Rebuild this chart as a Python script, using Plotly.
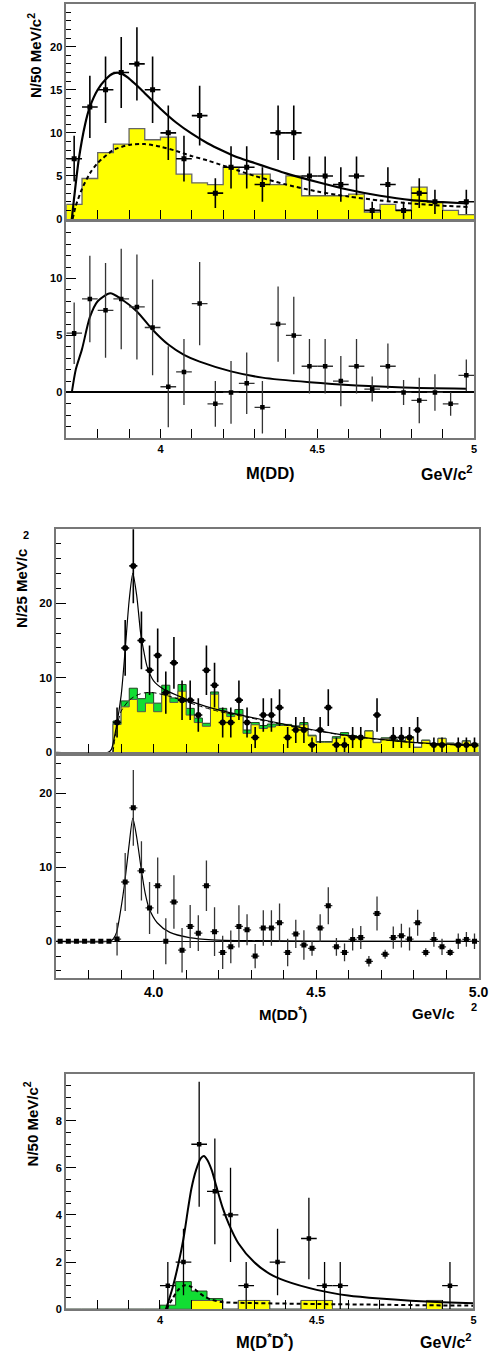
import plotly.graph_objects as go

W, H = 492, 1359
FONT = "Liberation Sans, Arial, Helvetica, sans-serif"

# ---------------- Panel 1 : M(DD) data ----------------
p1_x = [3.725, 3.775, 3.825, 3.875, 3.925, 3.975, 4.025, 4.075, 4.125, 4.175, 4.225, 4.275, 4.325,
        4.375, 4.425, 4.475, 4.525, 4.575, 4.625, 4.675, 4.725, 4.775, 4.825, 4.875, 4.975]
p1_y = [7, 13, 15, 17, 18, 15, 10, 7, 12, 3, 6, 6, 4, 10, 10, 5, 5, 4, 5, 1, 4, 1, 3, 2, 2]
p1_err = [2.65, 3.61, 3.87, 4.12, 4.24, 3.87, 3.16, 2.65, 3.46, 1.73, 2.45, 2.45, 2.0, 3.16, 3.16,
          2.24, 2.24, 2.0, 2.24, 1.0, 2.0, 1.0, 1.73, 1.41, 1.41]
p1_edges = [3.70, 3.75, 3.80, 3.85, 3.90, 3.95, 4.00, 4.05, 4.10, 4.15, 4.20, 4.25, 4.30, 4.35,
            4.40, 4.45, 4.50, 4.55, 4.60, 4.65, 4.70, 4.75, 4.80, 4.85, 4.90, 4.95, 5.00]
p1_hist = [1.7, 4.7, 7.7, 8.7, 10.5, 9.2, 9.5, 5.2, 4.2, 4.0, 6.0, 5.2, 5.2, 4.0, 5.0, 2.7, 2.7,
           2.7, 2.9, 0.8, 1.7, 1.0, 3.7, 2.0, 1.0, 0.5]
p1_fit_x = [3.7175, 3.725, 3.74, 3.76, 3.775, 3.80, 3.825, 3.85, 3.875, 3.90, 3.925, 3.95, 3.975,
            4.00, 4.05, 4.10, 4.15, 4.20, 4.25, 4.30, 4.35, 4.40, 4.50, 4.60, 4.70, 4.80, 4.90, 4.98]
p1_fit_y = [0.0, 2.5, 7.0, 11.0, 13.0, 15.0, 16.2, 16.9, 16.9, 16.3, 15.5, 14.6, 13.7,
            12.8, 11.2, 9.9, 8.8, 7.9, 7.1, 6.5, 5.9, 5.3, 4.3, 3.4, 2.7, 2.2, 1.95, 1.8]
p1_bg_x = [3.72, 3.73, 3.75, 3.775, 3.80, 3.85, 3.90, 3.95, 4.00, 4.05, 4.10, 4.15, 4.20, 4.25,
           4.30, 4.35, 4.40, 4.50, 4.60, 4.70, 4.80, 4.90, 4.98]
p1_bg_y = [0.0, 1.5, 3.5, 5.3, 6.5, 8.0, 8.6, 8.7, 8.4, 7.9, 7.3, 6.8, 6.2, 5.6,
           5.0, 4.5, 4.0, 3.2, 2.6, 2.15, 1.8, 1.55, 1.4]

# ---------------- Panel 2 : M(DD) background subtracted ----------------
p2_x = [3.725, 3.775, 3.825, 3.875, 3.925, 3.975, 4.025, 4.075, 4.125, 4.175, 4.225, 4.275, 4.325,
        4.375, 4.425, 4.475, 4.525, 4.575, 4.625, 4.675, 4.725, 4.775, 4.825, 4.875, 4.925, 4.975]
p2_y = [5.2, 8.2, 7.2, 8.2, 7.5, 5.7, 0.5, 1.8, 7.8, -1.0, 0.0, 0.8, -1.3, 6.0, 5.0, 2.3, 2.3,
        1.0, 2.3, 0.3, 2.3, 0.0, -0.7, 0.0, -1.0, 1.5]
p2_err = [2.7, 3.8, 4.15, 4.4, 4.6, 4.2, 3.55, 2.9, 3.65, 2.0, 2.75, 2.7, 2.3, 3.3, 3.4, 2.4, 2.4,
          2.2, 2.4, 1.1, 2.0, 1.1, 2.0, 1.6, 1.05, 1.4]
p2_fit_x = [3.7175, 3.73, 3.75, 3.775, 3.80, 3.84, 3.875, 3.925, 3.975, 4.025, 4.075, 4.125,
            4.225, 4.325, 4.475, 4.625, 4.775, 4.975]
p2_fit_y = [0.0, 2.0, 3.8, 6.6, 8.0, 8.7, 8.2, 7.1, 5.5, 4.2, 3.3, 2.7,
            1.85, 1.3, 0.9, 0.62, 0.44, 0.33]

# ---------------- Panel 3 : M(DD*) data ----------------
p3_x = [3.8875, 3.9125, 3.9375, 3.9625, 3.9875, 4.0125, 4.0375, 4.0625, 4.0875, 4.1125, 4.1375,
        4.1625, 4.1875, 4.2125, 4.2375, 4.2625, 4.2875, 4.3125, 4.3375, 4.3625, 4.3875, 4.4125,
        4.4375, 4.4625, 4.4875, 4.5125, 4.5375, 4.5625, 4.5875, 4.6125, 4.6375, 4.6875, 4.7375,
        4.7625, 4.7875, 4.8125, 4.8625, 4.8875, 4.9375, 4.9625, 4.9875]
p3_y = [4, 14, 25, 15, 11, 13, 8, 12, 7, 7, 5, 11, 9, 4, 4, 7, 4, 2, 5, 5, 6, 2, 3, 3, 1, 3, 6,
        1, 1, 2, 2, 5, 2, 2, 2, 3, 1, 1, 1, 1, 1]
p3_err = [2.0, 3.74, 5.0, 3.87, 3.32, 3.61, 2.83, 3.46, 2.65, 2.65, 2.24, 3.32, 3.0, 2.0, 2.0,
          2.65, 2.0, 1.41, 2.24, 2.24, 2.45, 1.41, 1.73, 1.73, 1.0, 1.73, 2.45, 1.0, 1.0, 1.41,
          1.41, 2.24, 1.41, 1.41, 1.41, 1.73, 1.0, 1.0, 1.0, 1.0, 1.0]
p3_edges = [3.875, 3.900, 3.925, 3.950, 3.975, 4.000, 4.025, 4.050, 4.075, 4.100, 4.125, 4.150,
            4.175, 4.200, 4.225, 4.250, 4.275, 4.300, 4.325, 4.350, 4.375, 4.400, 4.425, 4.450,
            4.475, 4.500, 4.525, 4.550, 4.575, 4.600, 4.625, 4.650, 4.675, 4.700, 4.725, 4.750,
            4.775, 4.800, 4.825, 4.850, 4.875, 4.900, 4.925, 4.950, 4.975, 5.000]
p3_yellow = [3.75, 6.1, 7.1, 5.45, 6.6, 5.45, 7.9, 6.7, 8.2, 5.0, 4.0, 3.5, 7.8, 5.6, 4.8, 5.1,
             2.55, 3.7, 3.2, 3.4, 3.6, 3.6, 3.4, 3.7, 2.2, 1.35, 1.35, 1.9, 2.35, 2.05, 1.9, 2.85,
             1.3, 1.85, 1.7, 1.5, 2.0, 0.65, 1.6, 1.1, 1.85, 1.2, 1.15, 1.5, 1.15]
p3_green = [4.2, 6.9, 8.6, 7.2, 8.0, 6.6, 9.0, 7.3, 9.1, 5.9, 4.6, 3.9, 8.1, 5.9, 5.2, 5.75,
            3.0, 4.0, 3.6, 3.8, 3.8, 3.75, 3.55, 4.0, 2.3, 1.45, 1.45, 2.1, 2.65, 2.25, 2.0, 2.9,
            1.35, 1.95, 1.8, 1.6, 2.1, 0.7, 1.65, 1.15, 1.9, 1.25, 1.2, 1.55, 1.2]
p3_fit_x = [3.70, 3.86, 3.87, 3.885, 3.90, 3.912, 3.925, 3.936, 3.948, 3.96, 3.97, 3.98, 4.00,
            4.03, 4.08, 4.13, 4.20, 4.30, 4.40, 4.50, 4.60, 4.70, 4.80, 4.90, 5.00]
p3_fit_y = [0.0, 0.0, 0.4, 3.4, 7.6, 13.5, 20.5, 24.0, 21.0, 16.0, 13.5, 11.5, 9.6,
            8.5, 7.5, 6.6, 5.7, 4.7, 3.8, 2.95, 2.25, 1.75, 1.35, 1.1, 0.9]
p3_bg_x = [3.875, 3.885, 3.90, 3.925, 3.95, 3.975, 4.00, 4.05, 4.10, 4.15, 4.20, 4.30, 4.40,
           4.50, 4.60, 4.70, 4.80, 4.90, 5.00]
p3_bg_y = [0.0, 3.0, 5.5, 7.0, 7.7, 8.0, 8.0, 7.5, 6.8, 6.1, 5.5, 4.6, 3.7,
           2.9, 2.2, 1.7, 1.3, 1.05, 0.85]

# ---------------- Panel 4 : M(DD*) background subtracted ----------------
p4_x = [3.7125, 3.7375, 3.7625, 3.7875, 3.8125, 3.8375, 3.8625, 3.8875, 3.9125, 3.9375, 3.9625,
        3.9875, 4.0125, 4.0375, 4.0625, 4.0875, 4.1125, 4.1375, 4.1625, 4.1875, 4.2125, 4.2375,
        4.2625, 4.2875, 4.3125, 4.3375, 4.3625, 4.3875, 4.4125, 4.4375, 4.4625, 4.4875, 4.5125,
        4.5375, 4.5625, 4.5875, 4.6125, 4.6375, 4.6625, 4.6875, 4.7125, 4.7375, 4.7625, 4.7875,
        4.8125, 4.8375, 4.8625, 4.8875, 4.9125, 4.9375, 4.9625, 4.9875]
p4_y = [0, 0, 0, 0, 0, 0, 0, 0.3, 8.0, 18.0, 9.5, 4.5, 7.5, 0.0, 5.3, -1.2, 2.0, 1.1, 7.5, 1.3,
        -1.5, -0.75, 2.0, 1.55, -2.0, 1.8, 1.8, 2.5, -1.5, 1.0, -0.5, -0.95, 1.8, 4.8, -0.75,
        -1.5, 0.25, 0.5, -2.7, 3.75, -1.75, 0.5, 0.75, 0.3, 2.5, -1.5, 0.25, -0.75, -1.5, 0.0,
        0.25, 0.0]
p4_err = [0, 0, 0, 0, 0, 0, 0, 2.2, 3.9, 5.1, 4.0, 3.5, 3.8, 3.1, 3.6, 3.0, 2.9, 2.4, 3.4, 3.3,
          2.25, 2.2, 2.85, 2.1, 1.65, 2.4, 2.4, 2.6, 1.85, 1.9, 2.0, 1.0, 1.85, 2.5, 1.2, 1.2,
          1.5, 1.55, 0.7, 2.3, 0.6, 1.5, 1.6, 1.55, 1.75, 0.55, 1.0, 1.1, 0.5, 1.05, 1.0, 1.05]
p4_fit_x = [3.70, 3.864, 3.875, 3.886, 3.899, 3.911, 3.924, 3.936, 3.948, 3.962, 3.974, 3.986,
            4.011, 4.05, 4.11, 4.18, 4.30, 4.50, 5.00]
p4_fit_y = [0.0, 0.0, 0.3, 1.2, 4.3, 7.9, 12.8, 16.6, 14.0, 9.7, 6.5, 4.45,
            2.5, 1.2, 0.5, 0.2, 0.08, 0.03, 0.0]

# ---------------- Panel 5 : M(D*D*) ----------------
p5_x = [4.025, 4.075, 4.125, 4.175, 4.225, 4.275, 4.375, 4.475, 4.525, 4.575, 4.925]
p5_y = [1, 2, 7, 5, 4, 1, 2, 3, 1, 1, 1]
p5_err = [1.0, 1.41, 2.65, 2.24, 2.0, 1.0, 1.41, 1.73, 1.0, 1.0, 1.0]
p5_edges = [3.70, 3.75, 3.80, 3.85, 3.90, 3.95, 4.00, 4.05, 4.10, 4.15, 4.20, 4.25, 4.30, 4.35,
            4.40, 4.45, 4.50, 4.55, 4.60, 4.65, 4.70, 4.75, 4.80, 4.85, 4.90, 4.95, 5.00]
p5_yellow = [0, 0, 0, 0, 0, 0, 0, 0, 0.37, 0.37, 0, 0.37, 0.37, 0, 0, 0.37, 0.37, 0, 0, 0, 0,
             0, 0, 0.37, 0, 0]
p5_green = [0, 0, 0, 0, 0, 0, 0.17, 1.17, 0.77, 0.45, 0, 0.37, 0.37, 0, 0, 0.37, 0.37, 0, 0,
            0, 0, 0, 0, 0.37, 0, 0]
p5_fit_x = [4.019, 4.04, 4.06, 4.075, 4.09, 4.10, 4.115, 4.13, 4.14, 4.15, 4.165, 4.18, 4.20,
            4.22, 4.25, 4.30, 4.35, 4.40, 4.50, 4.60, 4.70, 4.80, 4.90, 5.00]
p5_fit_y = [0.0, 0.9, 2.0, 3.0, 4.3, 5.1, 5.9, 6.4, 6.5, 6.35, 5.9, 5.2, 4.3,
            3.6, 2.8, 2.0, 1.5, 1.2, 0.82, 0.58, 0.45, 0.36, 0.3, 0.25]
p5_bg_x = [4.02, 4.04, 4.06, 4.08, 4.10, 4.12, 4.14, 4.16, 4.20, 4.30, 4.50, 4.70, 4.90, 5.00]
p5_bg_y = [0.0, 0.45, 0.85, 1.02, 0.95, 0.75, 0.55, 0.42, 0.3, 0.26, 0.22, 0.19, 0.16, 0.15]

# ---------------- geometry (pixel boxes of the five frames) ----------------
boxes = {
    1: (67.7, 484.0, 4.0, 220.0),
    2: (67.7, 484.0, 223.0, 440.0),
    3: (57.3, 488.5, 531.7, 755.7),
    4: (57.3, 488.5, 759.3, 982.7),
    5: (67.3, 483.3, 1079.0, 1315.0),
}


def dom(i):
    x0, x1, yt, yb = boxes[i]
    return [x0 / W, x1 / W], [1 - yb / H, 1 - yt / H]


def step_xy(edges, vals):
    xs = [edges[0]] + list(edges)
    ys = [0] + list(vals) + [vals[-1]]
    return xs, ys


fig = go.Figure()


def ax_names(i):
    return ("x" if i == 1 else f"x{i}"), ("y" if i == 1 else f"y{i}")


def add_hist(i, edges, vals, fillc, linec, lw=1.0):
    xa, ya = ax_names(i)
    xs, ys = step_xy(edges, vals)
    fig.add_trace(go.Scatter(x=xs, y=ys, mode="lines", line=dict(shape="hv", color=linec, width=lw),
                             fill="tozeroy", fillcolor=fillc, xaxis=xa, yaxis=ya,
                             hoverinfo="skip", showlegend=False))


def add_curve(i, xs, ys, width, dash="solid", color="black"):
    xa, ya = ax_names(i)
    fig.add_trace(go.Scatter(x=xs, y=ys, mode="lines",
                             line=dict(shape="spline", smoothing=0.7, color=color, width=width, dash=dash),
                             xaxis=xa, yaxis=ya, hoverinfo="skip", showlegend=False))


def add_points(i, xs, ys, errs, halfw, msize, symbol="square", thick=1.5, ecolor="black"):
    xa, ya = ax_names(i)
    fig.add_trace(go.Scatter(x=xs, y=ys, mode="markers",
                             marker=dict(symbol=symbol, size=msize, color="black"),
                             error_y=dict(type="data", array=errs, visible=True, width=0,
                                          thickness=thick, color=ecolor),
                             error_x=dict(type="constant", value=halfw, visible=True, width=0,
                                          thickness=thick, color=ecolor),
                             xaxis=xa, yaxis=ya, showlegend=False))


YEL = "#ffff00"
GRN = "#11dd33"

# panel 1
add_hist(1, p1_edges, p1_hist, YEL, "#666666", 1.3)
add_curve(1, p1_bg_x, p1_bg_y, 2.0, dash="4px,3px")
add_curve(1, p1_fit_x, p1_fit_y, 2.2)
add_points(1, p1_x, p1_y, p1_err, 0.025, 5, thick=1.6)

# panel 2
add_curve(2, p2_fit_x, p2_fit_y, 2.0)
add_points(2, p2_x, p2_y, p2_err, 0.025, 4.5, thick=1.3, ecolor="#333333")

# panel 3
add_hist(3, p3_edges, p3_green, GRN, "#224422", 1.0)
add_hist(3, p3_edges, p3_yellow, YEL, "#555555", 1.0)
add_curve(3, p3_bg_x, p3_bg_y, 1.0, dash="5px,3px")
add_curve(3, p3_fit_x, p3_fit_y, 1.2)
add_points(3, p3_x, p3_y, p3_err, 0.0125, 6, symbol="circle", thick=1.6)

# panel 4
add_curve(4, p4_fit_x, p4_fit_y, 1.2)
add_points(4, p4_x, p4_y, p4_err, 0.0125, 5, thick=1.3, ecolor="#333333")

# panel 5
add_hist(5, p5_edges, p5_green, GRN, "#224422", 1.0)
add_hist(5, p5_edges, p5_yellow, YEL, "#555555", 1.0)
add_curve(5, p5_bg_x, p5_bg_y, 2.0, dash="4px,3px")
add_curve(5, p5_fit_x, p5_fit_y, 2.0)
add_points(5, p5_x, p5_y, p5_err, 0.025, 4.5, thick=1.3)

# ---------------- axes ----------------
yspec = {
    1: dict(range=[0, 24.95], dtick=5, minor=1, size=11),
    2: dict(range=[-4, 14.95], dtick=5, minor=1, size=11),
    3: dict(range=[0, 29.9], dtick=10, minor=2, size=11.5),
    4: dict(range=[-5, 25], dtick=10, minor=2, size=11.5),
    5: dict(range=[0, 9.97], dtick=2, minor=0.5, size=11),
}
xspec = {
    1: dict(labels=False, size=11, fmt=""),
    2: dict(labels=True, size=11, fmt=""),
    3: dict(labels=False, size=14, fmt=".1f"),
    4: dict(labels=True, size=14, fmt=".1f"),
    5: dict(labels=True, size=11, fmt=""),
}
layout_axes = {}
for i in range(1, 6):
    dx, dy = dom(i)
    xa, ya = ax_names(i)
    xkey = "xaxis" if i == 1 else f"xaxis{i}"
    ykey = "yaxis" if i == 1 else f"yaxis{i}"
    layout_axes[xkey] = dict(
        domain=dx, anchor=ya, range=[3.7, 5.0], tick0=4.0, dtick=0.5, tickformat=xspec[i]["fmt"],
        ticks="inside", ticklen=9, tickwidth=1, tickcolor="black",
        showticklabels=xspec[i]["labels"], ticklabeloverflow="allow",
        tickfont=dict(family=FONT, size=xspec[i]["size"], color="black", weight="bold"),
        minor=dict(dtick=0.1, tick0=3.7, ticks="inside", ticklen=9, tickwidth=1, tickcolor="black",
                   showgrid=False),
        showgrid=False, zeroline=False, showline=True, linecolor="#777777", linewidth=1.5,
        mirror=True, fixedrange=True,
    )
    s = yspec[i]
    layout_axes[ykey] = dict(
        domain=dy, anchor=xa, range=s["range"], tick0=0, dtick=s["dtick"],
        ticks="inside", ticklen=10, tickwidth=1, tickcolor="black",
        tickfont=dict(family=FONT, size=s["size"], color="black", weight="bold"),
        minor=dict(dtick=s["minor"], tick0=0, ticks="inside", ticklen=5, tickwidth=1,
                   tickcolor="black", showgrid=False),
        showgrid=False, showline=True, linecolor="#777777", linewidth=1.5, mirror=True,
        zeroline=(i in (2, 4)), zerolinecolor="black", zerolinewidth=(1.6 if i == 2 else 1.0),
        fixedrange=True,
    )


def ann(text, px, py, size, angle=0, xanchor="center", yanchor="middle"):
    return dict(text=text, x=px / W, y=1 - py / H, xref="paper", yref="paper", showarrow=False,
                textangle=angle, xanchor=xanchor, yanchor=yanchor,
                font=dict(family=FONT, size=size, color="black", weight="bold"))


annotations = [
    ann("N/50 MeV/c<sup>2</sup>", 35, 56, 15, angle=-90),
    ann("M(DD)", 276, 475, 16.5),
    ann("GeV/c<sup>2</sup>", 485, 475, 16, xanchor="right"),
    ann("N/25 MeV/c", 22, 591, 15, angle=-90),
    ann("2", 27, 537, 11),
    ann("M(DD<sup>*</sup>)", 289, 1018, 15),
    ann("GeV/c", 443, 1018, 15),
    ann("2", 484, 1011, 11),
    ann("N/50 MeV/c<sup>2</sup>", 31, 1129, 15, angle=-90),
    ann("M(D<sup>*</sup>D<sup>*</sup>)", 270, 1347, 16.5),
    ann("GeV/c<sup>2</sup>", 484, 1347, 16, xanchor="right"),
]

fig.update_layout(
    width=W, height=H, margin=dict(l=0, r=0, t=0, b=0),
    paper_bgcolor="white", plot_bgcolor="white", showlegend=False,
    annotations=annotations, **layout_axes,
)

fig.write_html("out.html", config={"displayModeBar": False},
               post_script="document.body.style.margin='0';document.body.style.overflow='hidden';")
